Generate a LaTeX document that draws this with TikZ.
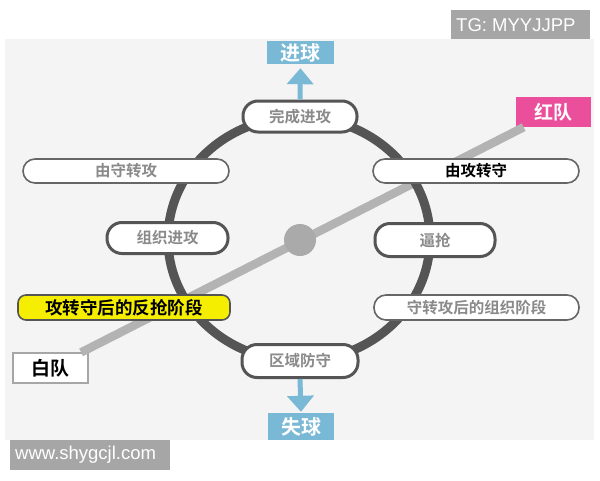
\documentclass[tikz,border=0pt]{standalone}
\usepackage{fontspec}
\newfontfamily\cjk[BoldFont={Noto Sans CJK SC Bold}]{Noto Sans CJK SC}
\newfontfamily\lsans{Liberation Sans}
\usetikzlibrary{arrows.meta}
\definecolor{panel}{HTML}{F4F4F4}
\definecolor{ringgray}{HTML}{555555}
\definecolor{linegray}{HTML}{B3B3B3}
\definecolor{txtgray}{HTML}{8A8A8A}
\definecolor{goalblue}{HTML}{7AB9D6}
\definecolor{redteam}{HTML}{EB4F9C}
\definecolor{hilite}{HTML}{F6EE00}
\definecolor{wmgray}{HTML}{A6A6A6}
\tikzset{
  pillthick/.style={draw=ringgray, line width=3pt, fill=white, rounded corners=15pt,
    inner sep=0pt, font=\cjk\bfseries\fontsize{15.5}{15.5}\selectfont, text=txtgray},
  pillthin/.style={draw=ringgray!90, line width=1.6pt, fill=white, rounded corners=12pt,
    inner sep=0pt, font=\cjk\bfseries\fontsize{15.5}{15.5}\selectfont, text=txtgray},
  bluebox/.style={fill=goalblue, inner sep=0pt, text=white,
    font=\cjk\bfseries\fontsize{20}{20}\selectfont},
  teambox/.style={inner sep=0pt, font=\cjk\bfseries\fontsize{19}{19}\selectfont},
  bluearrow/.style={draw=goalblue, line width=5pt, -{Triangle[width=26pt,length=16pt]}},
  wmbox/.style={fill=wmgray, inner sep=0pt},
  wmtext/.style={text=white, inner sep=0pt, anchor=west, font=\lsans\fontsize{18.5}{18.5}\selectfont}
}
\begin{document}
\begin{tikzpicture}[x=1pt,y=-1pt]
\useasboundingbox (0,0) rectangle (600,480);
\fill[white] (0,0) rectangle (600,480);
\fill[panel] (5,39) rectangle (594,440);
% watermarks
\node[wmbox, minimum width=139pt, minimum height=29pt] (tg) at (520.5,24.5) {};
\node[wmtext] (tgtext) at (456,25) {TG: MYYJJPP};
\node[wmbox, minimum width=160pt, minimum height=30pt] (www) at (90,455) {};
\node[wmtext] (wwwtext) at (15,455) {www.shygcjl.com};
% teams
\node[teambox, draw=gray!70, line width=1.2pt, fill=white, text=black,
  minimum width=75pt, minimum height=30pt] (whiteteam) at (50.5,368) {白队};
\node[teambox, fill=redteam, text=white,
  minimum width=75pt, minimum height=30pt] (redt) at (553.5,112) {红队};
% diagonal line
\draw[linegray, line width=8.5pt] (whiteteam) -- (redt);
\node[circle, fill=linegray!95!black, minimum size=32pt, inner sep=0pt] (hub) at (300,240) {};
% ring
\draw[ringgray, line width=9pt] (299,239) ellipse [x radius=131pt, y radius=122pt];
% goal / lose
\node[bluebox, minimum width=67pt, minimum height=23pt] (goal) at (300.5,52.5) {进球};
\node[bluebox, minimum width=66pt, minimum height=27pt] (lose) at (301,426.5) {失球};
% nodes on ring
\node[pillthick, minimum width=114pt, minimum height=31pt] (finish) at (300,116.5) {完成进攻};
\node[pillthick, minimum width=116pt, minimum height=33pt] (zone) at (300,361) {区域防守};
\node[pillthick, minimum width=121pt, minimum height=31pt] (org) at (167.5,238) {组织进攻};
\node[pillthick, minimum width=120pt, minimum height=33pt] (press) at (435,240) {逼抢};
\node[pillthin, minimum width=206pt, minimum height=24pt] (d2a) at (126,171) {由守转攻};
\node[pillthin, minimum width=206pt, minimum height=24pt, text=black] (a2d) at (476,171) {由攻转守};
\node[pillthin, minimum width=205pt, minimum height=25pt] (orgphase) at (476.5,307.5) {守转攻后的组织阶段};
\node[draw=ringgray, line width=1.6pt, fill=hilite, rounded corners=8pt, inner sep=0pt,
  minimum width=212pt, minimum height=25pt, text=black,
  font=\cjk\bfseries\fontsize{17.5}{17.5}\selectfont] (counter) at (124,307.5) {攻转守后的反抢阶段};
% arrows
\draw[bluearrow, shorten >=4pt] (finish.north) -- (goal.south);
\draw[bluearrow, shorten >=1pt] (zone.south) -- (lose.north);
\end{tikzpicture}
\end{document}
